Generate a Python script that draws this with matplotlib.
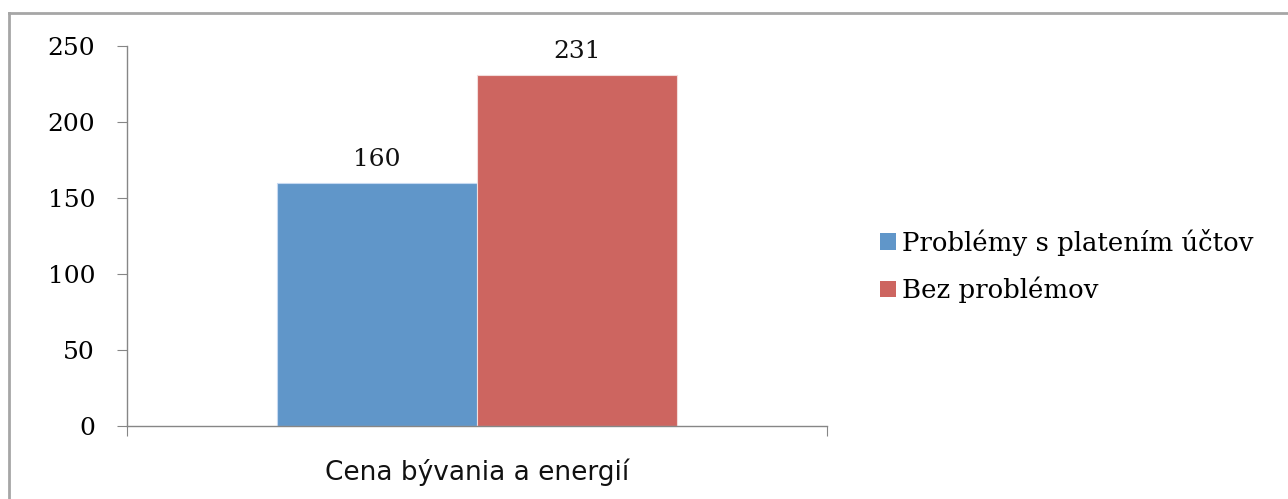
import matplotlib
matplotlib.use("Agg")
import matplotlib.pyplot as plt
from matplotlib.lines import Line2D
from matplotlib.patches import Patch

category = ["Cena bývania a energií"]
seriesNames = ["Problémy s platením účtov", "Bez problémov"]
seriesValues = [160, 231]
colors = ["#6096C9", "#CD6560"]
yTicks = [0, 50, 100, 150, 200, 250]

serif = ["DejaVu Serif"]
fig = plt.figure(figsize=(12.88, 4.99), dpi=100)
ax = fig.add_axes([0.0986, 0.1463, 0.5435, 0.7615])

barWidth = 0.2857
offsets = [-barWidth / 2, barWidth / 2]
for i in range(len(seriesNames)):
    ax.bar(offsets[i], seriesValues[i], width=barWidth, color=colors[i],
           edgecolor="#F2DCDB" if i == 1 else "#C6D9F1", linewidth=0.8)
    ax.text(offsets[i], seriesValues[i] + 8, str(seriesValues[i]), ha="center", va="bottom",
            fontsize=18, family=serif, color="#111111")

ax.set_xlim(-0.5, 0.5)
ax.set_ylim(0, 250)
ax.set_yticks(yTicks)
ax.set_yticklabels([str(v) for v in yTicks], fontsize=18, family=serif)
ax.set_xticks([-0.5, 0.5])
ax.set_xticklabels(["", ""])
ax.tick_params(axis="y", length=7, color="#868686", pad=16)
ax.tick_params(axis="x", length=7, color="#868686")
ax.spines["top"].set_visible(False)
ax.spines["right"].set_visible(False)
for s in ["left", "bottom"]:
    ax.spines[s].set_color("#868686")
    ax.spines[s].set_linewidth(1.0)

ax.text(0.0, -0.085, category[0], transform=ax.get_xaxis_transform(), ha="center", va="top",
        fontsize=19, family=["Liberation Sans Narrow", "DejaVu Sans"], color="#111111")

handles = [Patch(facecolor=colors[i], edgecolor="none") for i in range(2)]
fig.legend(handles, seriesNames, loc="center left", bbox_to_anchor=(0.665, 0.467),
           frameon=False, prop={"family": serif, "size": 18.7},
           handlelength=0.62, handleheight=0.62, handletextpad=0.25, labelspacing=0.8)

# outer chart border (left and top only visible)
fig.add_artist(Line2D([0.0072, 0.0072], [0.0, 0.974], transform=fig.transFigure, color="#A6A6A6", linewidth=2))
fig.add_artist(Line2D([0.0072, 1.0], [0.974, 0.974], transform=fig.transFigure, color="#A6A6A6", linewidth=2))

fig.savefig("out.png", dpi=100)
